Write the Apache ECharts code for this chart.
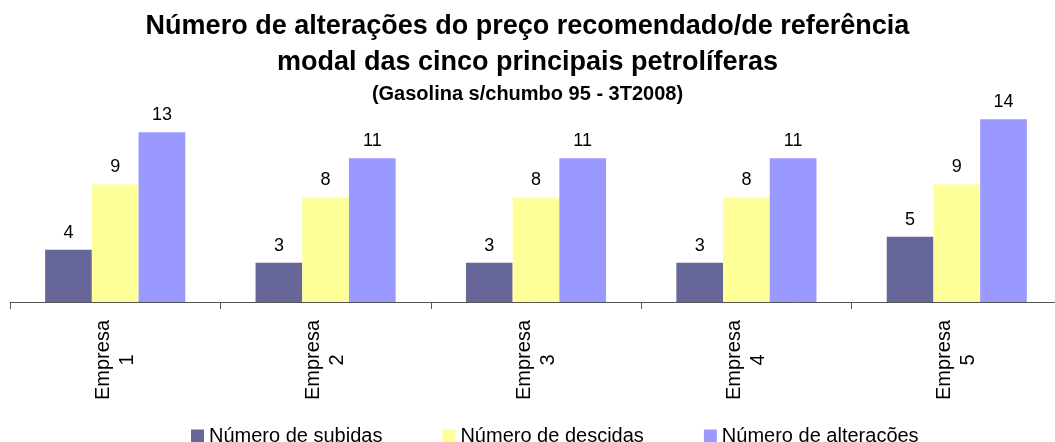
<!DOCTYPE html>
<html>
<head>
<meta charset="utf-8">
<script src="https://cdn.jsdelivr.net/npm/echarts@6/dist/echarts.min.js"></script>
<style>
  html, body { margin: 0; padding: 0; background: #fff; }
  #chart { width: 1055px; height: 442px; }
</style>
</head>
<body>
<div id="chart"></div>
<script>
// dados
var categorias = ['Empresa\n1', 'Empresa\n2', 'Empresa\n3', 'Empresa\n4', 'Empresa\n5'];
var subidas = [4, 3, 3, 3, 5];
var descidas = [9, 8, 8, 8, 9];
var alteracoes = [13, 11, 11, 11, 14];
var nomesSeries = ['Número de subidas', 'Número de descidas', 'Número de alterações'];

(function () {
  var myChart = echarts.init(document.getElementById('chart'));
  var fonte = 'Arial, "Liberation Sans", sans-serif';
  // rótulos por cima das barras
  var rotulo = {
    show: true,
    position: 'top',
    distance: 8,
    color: '#000',
    fontSize: 18,
    fontFamily: fonte
  };
  var option = {
    animation: false,
    color: ['#666699', '#ffff99', '#9999ff'],
    title: [
      {
        text: 'Número de alterações do preço recomendado/de referência\nmodal das cinco principais petrolíferas',
        left: 'center',
        top: 4,
        textStyle: {
          fontFamily: fonte,
          fontWeight: 'bold',
          fontSize: 27,
          lineHeight: 36,
          color: '#000'
        }
      },
      {
        text: '(Gasolina s/chumbo 95 - 3T2008)',
        left: 'center',
        top: 79,
        textStyle: {
          fontFamily: fonte,
          fontWeight: 'bold',
          fontSize: 20,
          color: '#000'
        }
      }
    ],
    legend: {
      top: 421,
      left: 186,
      itemWidth: 13,
      itemHeight: 13,
      itemGap: 60,
      icon: 'rect',
      textStyle: { fontFamily: fonte, fontSize: 20, color: '#000' },
      data: nomesSeries
    },
    // o eixo vai até fora da imagem, à direita
    grid: {
      left: 10,
      width: 1052,
      top: 93,
      height: 209,
      outerBoundsMode: 'none'
    },
    xAxis: {
      type: 'category',
      data: categorias,
      axisLine: { lineStyle: { color: '#555', width: 1 } },
      axisTick: { show: true, length: 7, lineStyle: { color: '#555' } },
      axisLabel: {
        rotate: 90,
        align: 'center',
        verticalAlign: 'middle',
        margin: 58,
        interval: 0,
        fontFamily: fonte,
        fontSize: 20,
        lineHeight: 24,
        color: '#000'
      }
    },
    yAxis: {
      type: 'value',
      min: 0,
      max: 16,
      show: false
    },
    series: [
      {
        name: nomesSeries[0],
        type: 'bar',
        data: subidas,
        barWidth: 46.7,
        barGap: '0%',
        label: rotulo
      },
      {
        name: nomesSeries[1],
        type: 'bar',
        data: descidas,
        barWidth: 46.7,
        barGap: '0%',
        label: rotulo
      },
      {
        name: nomesSeries[2],
        type: 'bar',
        data: alteracoes,
        barWidth: 46.7,
        barGap: '0%',
        label: rotulo
      }
    ]
  };
  myChart.setOption(option);
  window.addEventListener('resize', function () {
    myChart.resize();
  });
})();
</script>
</body>
</html>
